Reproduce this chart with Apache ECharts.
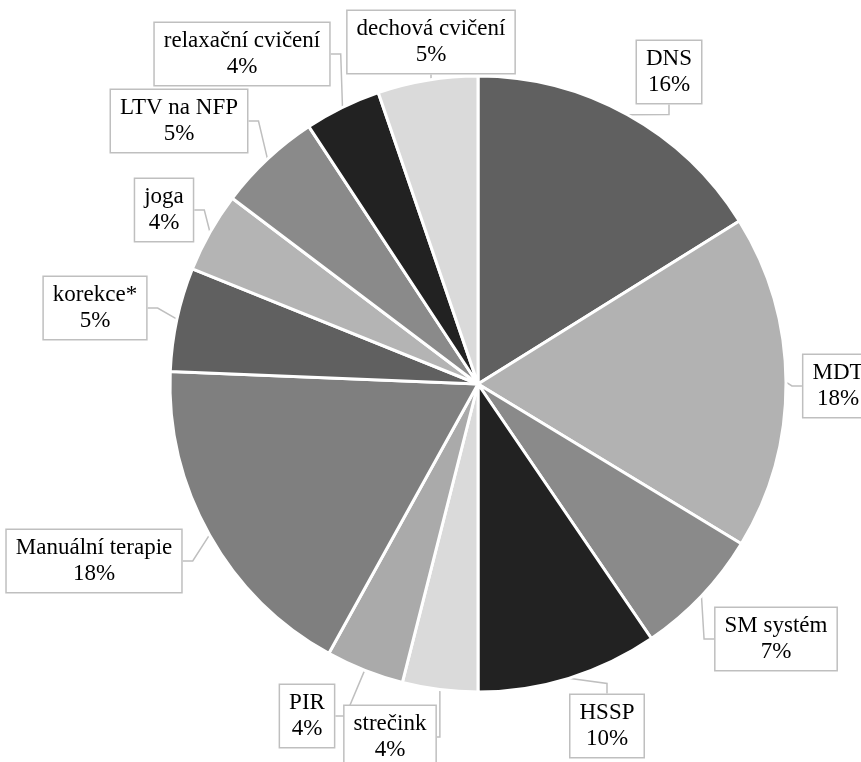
<!DOCTYPE html>
<html>
<head>
<meta charset="utf-8">
<script src="https://cdn.jsdelivr.net/npm/echarts@6/dist/echarts.min.js"></script>
<style>
html,body{margin:0;padding:0;background:#fff;}
#chart{width:861px;height:762px;}
</style>
</head>
<body>
<div id="chart"></div>
<script>
const categories = ['DNS','MDT','SM systém','HSSP','strečink','PIR','Manuální terapie','korekce*','joga','LTV na NFP','relaxační cvičení','dechová cvičení'];
const values = [16.13, 17.55, 6.8, 9.52, 3.95, 4.1, 17.6, 5.45, 4.2, 5.45, 4.0, 5.25];
const sliceColors = ['#606060','#b2b2b2','#8a8a8a','#222222','#dadada','#aaaaaa','#7f7f7f','#606060','#b4b4b4','#8a8a8a','#222222','#dadada'];
// label box centres (layout, px)
const labelPos = [
  [669, 72], [838, 386], [776, 639], [607, 726], [390, 737], [307, 716],
  [94, 561], [95, 308], [164, 210], [179, 121], [242, 54], [431, 42]
];

const chart = echarts.init(document.getElementById('chart'), null, {renderer:'canvas'});
const total = values.reduce((a,b)=>a+b,0);
chart.setOption({
  animation: false,
  backgroundColor: '#ffffff',
  series: [{
    type: 'pie',
    center: [478, 384],
    radius: [0, 308],
    startAngle: 90,
    clockwise: true,
    avoidLabelOverlap: false,
    itemStyle: { borderColor: '#ffffff', borderWidth: 3 },
    label: {
      show: true,
      position: 'outside',
      fontFamily: 'Liberation Serif',
      fontSize: 23,
      lineHeight: 26,
      color: '#000',
      backgroundColor: '#ffffff',
      borderColor: '#bfbfbf',
      borderWidth: 1.5,
      padding: [5, 9],
      align: 'center',
      formatter: p => p.name + '\n' + Math.round(p.value / total * 100) + '%'
    },
    labelLine: { show: true, length: 10, length2: 10, lineStyle: { color: '#bfbfbf', width: 1.5 } },
    labelLayout: function (params) {
      const pos = labelPos[params.dataIndex];
      return { x: pos[0], y: pos[1], align: 'center', verticalAlign: 'middle' };
    },
    data: categories.map((c, i) => ({ name: c, value: values[i], itemStyle: { color: sliceColors[i] } }))
  }]
});
</script>
</body>
</html>
